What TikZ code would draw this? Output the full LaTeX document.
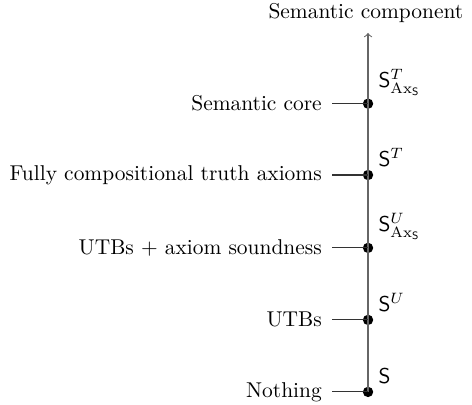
\documentclass[tikz,border=0pt]{standalone}
\usetikzlibrary{positioning}

\begin{document}
\begin{tikzpicture}[
  levdot/.style={circle, fill=black, inner sep=0pt, minimum size=0.17cm},
  leftlab/.style={anchor=east, inner sep=4.6pt},
  rightlab/.style={anchor=south west, inner sep=0pt},
  axis/.style={->, >=to, black!60, line width=0.5pt},
  tick/.style={black!80, line width=0.5pt}
]
\useasboundingbox (0,0) rectangle (7.74,6.64);

% Axis title and tip
\node[anchor=base] (title) at (6.0, 6.33) {Semantic component};
\coordinate (tip) at (6.035, 6.10);

% Levels on the axis
\node[levdot] (s0) at (6.035, 0.213) {};
\node[levdot] (s1) at (6.035, 1.394) {};
\node[levdot] (s2) at (6.035, 2.575) {};
\node[levdot] (s3) at (6.035, 3.77) {};
\node[levdot] (s4) at (6.035, 4.94) {};

\draw[axis] (s0.center) -- (tip);

% Left labels
\node[leftlab] (l0) at (5.445, 0.213) {Nothing};
\node[leftlab] (l1) at (5.445, 1.394) {UTBs};
\node[leftlab] (l2) at (5.445, 2.575) {UTBs $+$ axiom soundness};
\node[leftlab] (l3) at (5.445, 3.77) {Fully compositional truth axioms};
\node[leftlab] (l4) at (5.445, 4.94) {Semantic core};

\draw[tick] (l0.east) -- (s0.center);
\draw[tick] (l1.east) -- (s1.center);
\draw[tick] (l2.east) -- (s2.center);
\draw[tick] (l3.east) -- (s3.center);
\draw[tick] (l4.east) -- (s4.center);

% Right labels
\node[rightlab] (r0) at (6.2, 0.343) {$\mathsf{S}$};
\node[rightlab] (r1) at (6.2, 1.524) {$\mathsf{S}^{U}$};
\node[rightlab] (r2) at (6.2, 2.705) {$\mathsf{S}^{U}_{\mathrm{Ax}_{\mathsf{S}}}$};
\node[rightlab] (r3) at (6.2, 3.90) {$\mathsf{S}^{T}$};
\node[rightlab] (r4) at (6.2, 5.07) {$\mathsf{S}^{T}_{\mathrm{Ax}_{\mathsf{S}}}$};

\end{tikzpicture}
\end{document}
